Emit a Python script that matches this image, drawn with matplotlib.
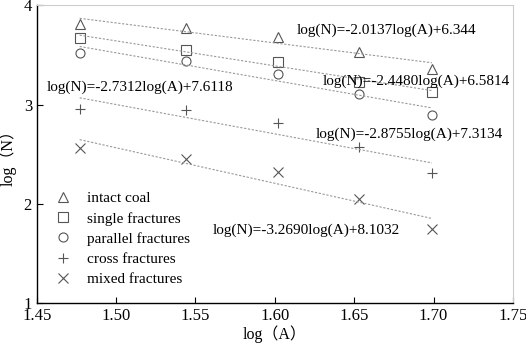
import numpy as np
import matplotlib.pyplot as plt

plt.rcParams['font.family'] = ['Liberation Serif', 'Noto Sans CJK SC']

# log(A) values
log_a = [1.477, 1.544, 1.602, 1.653, 1.699]

# log(N) for each specimen type
intact = [3.81, 3.77, 3.68, 3.53, 3.36]
single = [3.67, 3.55, 3.43, 3.23, 3.13]
parallel = [3.52, 3.44, 3.31, 3.11, 2.90]
cross = [2.96, 2.95, 2.81, 2.57, 2.31]
mixed = [2.56, 2.45, 2.32, 2.05, 1.75]

names = ["intact coal", "single fractures", "parallel fractures",
         "cross fractures", "mixed fractures"]
equations = ["log(N)=-2.0137log(A)+6.344",
             "log(N)=-2.4480log(A)+6.5814",
             "log(N)=-2.7312log(A)+7.6118",
             "log(N)=-2.8755log(A)+7.3134",
             "log(N)=-3.2690log(A)+8.1032"]
# label positions (data coords, left edge / vertical centre)
eq_x = [1.614, 1.630, 1.456, 1.626, 1.561]
eq_y = [3.75, 3.23, 3.17, 2.70, 1.74]

markers = ['^', 's', 'o', '+', 'x']
col = '#555555'

fig = plt.figure(figsize=(5.26, 3.44), dpi=100)
ax = fig.add_axes([0.070, 0.118, 0.905, 0.867])

x = np.array(log_a)
for ys, m, name in zip([intact, single, parallel, cross, mixed], markers, names):
    ax.plot(x, ys, linestyle='none', marker=m, markersize=7 if m in '+x' else 6.5,
            markerfacecolor='none', markeredgecolor=col, markeredgewidth=0.8,
            label=name)
    k, b = np.polyfit(x, ys, 1)
    ax.plot([x[0], x[-1]], [k * x[0] + b, k * x[-1] + b], color='#999999',
            linestyle=(0, (2, 1.5)), linewidth=0.8)

for t, tx, ty in zip(equations, eq_x, eq_y):
    ax.text(tx, ty, t, fontsize=11, va='center', ha='left', color='black')

ax.set_xlim(1.45, 1.75)
ax.set_ylim(1, 4)
ax.set_xticks([1.45, 1.50, 1.55, 1.60, 1.65, 1.70, 1.75])
ax.set_xticklabels(["%.2f" % v for v in [1.45, 1.50, 1.55, 1.60, 1.65, 1.70, 1.75]])
ax.set_yticks([1, 2, 3, 4])
ax.tick_params(direction='in', length=4, width=0.8, labelsize=12, colors='black')
ax.tick_params(axis='x', pad=3)
for s in ['top', 'right']:
    ax.spines[s].set_color('#cccccc')
for s in ['left', 'bottom']:
    ax.spines[s].set_linewidth(1.0)

ax.set_xlabel("log（A）", fontsize=11.5, labelpad=1)
ax.set_ylabel("log（N）", fontsize=11.5, labelpad=5)

ax.legend(loc='upper left', bbox_to_anchor=(0.01, 0.395), frameon=False,
          fontsize=11, handletextpad=0.6, labelspacing=0.42, borderaxespad=0)

fig.savefig("out.png", dpi=100)
